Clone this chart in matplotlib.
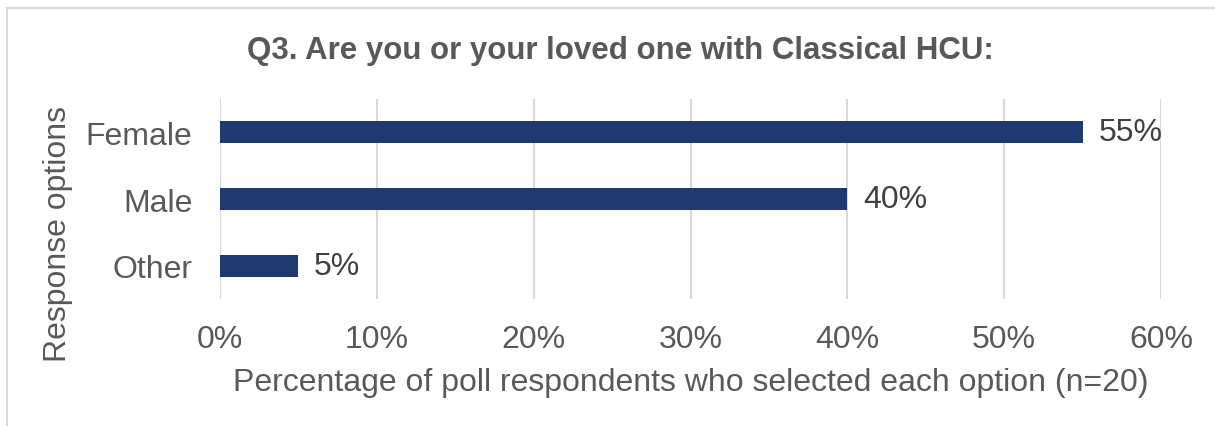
import matplotlib.pyplot as plt
from matplotlib.ticker import PercentFormatter
from matplotlib.patches import Rectangle

plt.rcParams['font.family'] = ['Liberation Sans', 'DejaVu Sans']

opcoes = ['Female', 'Male', 'Other']
percentuais = [55, 40, 5]
ticks_x = [0, 10, 20, 30, 40, 50, 60]

cinza = '#595959'
cor_barra = '#1f3a6e'

fig = plt.figure(figsize=(12.15, 4.27), dpi=100)
ax = fig.add_axes([0.1811, 0.2974, 0.9556 - 0.1811, 0.7658 - 0.2974])

# moldura do gráfico
fig.patches.append(Rectangle((7 / 1215, -0.1), 1.2, 1 - 9 / 427 + 0.1,
                             transform=fig.transFigure, fill=False,
                             edgecolor='#d9d9d9', linewidth=1.5))

y = list(range(len(opcoes)))[::-1]
ax.barh(y, percentuais, height=0.33, color=cor_barra, zorder=3)
for yi, v in zip(y, percentuais):
    ax.text(v + 1.0, yi, f'{v}%', va='center', ha='left', fontsize=23, color='#404040')

ax.set_xlim(0, 60)
ax.set_ylim(-0.5, 2.5)
ax.set_xticks(ticks_x)
ax.xaxis.set_major_formatter(PercentFormatter(decimals=0))
ax.set_yticks(y)
ax.set_yticklabels(opcoes)
ax.tick_params(axis='both', length=0, labelsize=23, labelcolor=cinza)
ax.tick_params(axis='x', pad=18)
ax.tick_params(axis='y', pad=20)
ax.grid(axis='x', color='#d9d9d9', linewidth=1.5, zorder=0)
for s in ax.spines.values():
    s.set_visible(False)

ax.set_xlabel('Percentage of poll respondents who selected each option (n=20)',
              fontsize=23, color=cinza, labelpad=9)
fig.text(58 / 1215, 1 - 234 / 427, 'Response options', rotation=90,
         ha='center', va='center', fontsize=23, color=cinza)
fig.text(0.511, 0.881, 'Q3. Are you or your loved one with Classical HCU:',
         ha='center', va='center', fontsize=22.5, fontweight='bold', color=cinza)

fig.savefig('out.png', dpi=100)
